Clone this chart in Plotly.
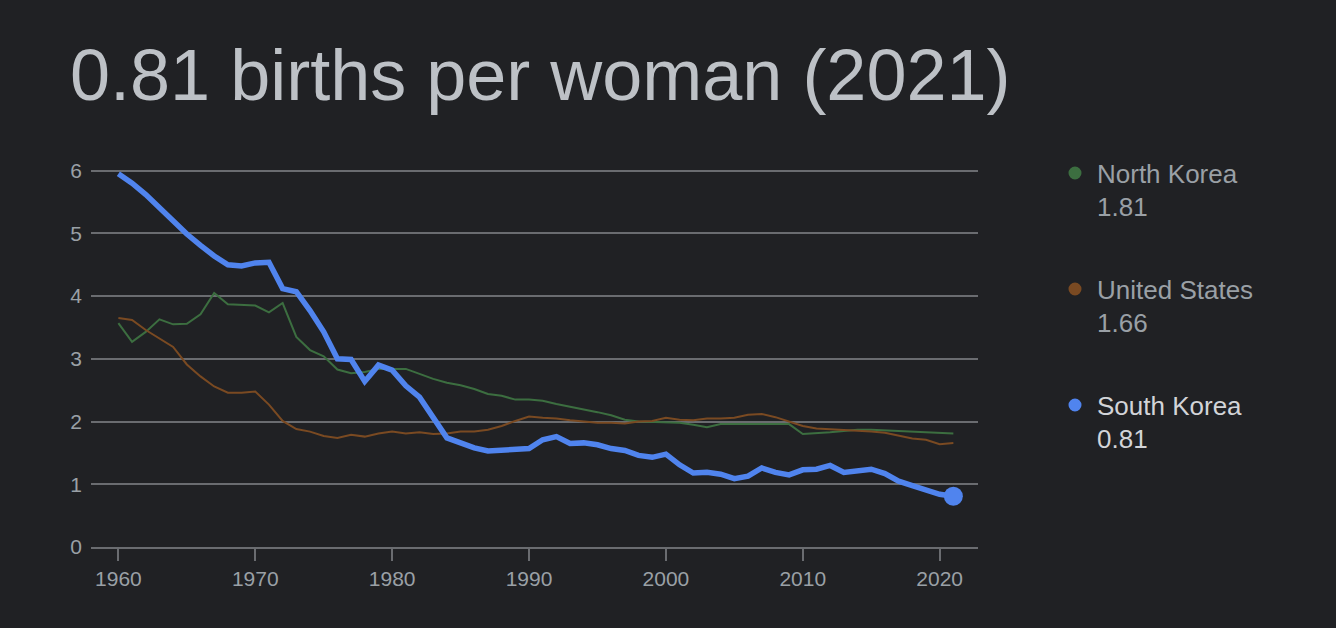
import plotly.graph_objects as go

# Fertility rate, births per woman
years = list(range(1960, 2022))

south_korea = [
    5.95, 5.80, 5.62, 5.40, 5.18, 4.99, 4.81, 4.64, 4.50, 4.48,
    4.53, 4.54, 4.12, 4.07, 3.77, 3.43, 3.00, 2.99, 2.64, 2.90,
    2.82, 2.57, 2.39, 2.06, 1.74, 1.66, 1.58, 1.53, 1.55, 1.56,
    1.57, 1.71, 1.76, 1.65, 1.66, 1.63, 1.57, 1.54, 1.46, 1.43,
    1.48, 1.31, 1.18, 1.19, 1.16, 1.09, 1.13, 1.26, 1.19, 1.15,
    1.23, 1.24, 1.30, 1.19, 1.21, 1.24, 1.17, 1.05, 0.98, 0.92, 0.84, 0.81,
]
united_states = [
    3.65, 3.62, 3.46, 3.32, 3.19, 2.91, 2.72, 2.56, 2.46, 2.46,
    2.48, 2.27, 2.01, 1.88, 1.84, 1.77, 1.74, 1.79, 1.76, 1.81,
    1.84, 1.81, 1.83, 1.80, 1.81, 1.84, 1.84, 1.87, 1.93, 2.01,
    2.08, 2.06, 2.05, 2.02, 2.00, 1.98, 1.98, 1.97, 2.00, 2.01,
    2.06, 2.03, 2.02, 2.05, 2.05, 2.06, 2.11, 2.12, 2.07, 2.00,
    1.93, 1.89, 1.88, 1.86, 1.86, 1.84, 1.82, 1.77, 1.73, 1.71, 1.64, 1.66,
]
north_korea = [
    3.57, 3.27, 3.43, 3.63, 3.55, 3.56, 3.71, 4.05, 3.87, 3.86,
    3.85, 3.74, 3.89, 3.35, 3.14, 3.04, 2.83, 2.77, 2.79, 2.84,
    2.84, 2.84, 2.76, 2.68, 2.62, 2.58, 2.52, 2.44, 2.41, 2.35,
    2.35, 2.33, 2.28, 2.24, 2.20, 2.15, 2.10, 2.03, 2.00, 1.99,
    1.98, 1.98, 1.95, 1.91, 1.96, 1.96, 1.96, 1.96, 1.97, 1.96,
    1.80, 1.81, 1.83, 1.85, 1.87, 1.87, 1.86, 1.85, 1.84, 1.83, 1.81, 1.81,
]

x_ticks = [1960, 1970, 1980, 1990, 2000, 2010, 2020]
y_ticks = [0, 1, 2, 3, 4, 5, 6]

BG = "#202124"
GRID = "#6a6c70"
FONT = "Liberation Sans, Arial, sans-serif"

series = [
    ("North Korea", north_korea, "#3c6e40", 2, "#9aa0a6"),
    ("United States", united_states, "#7a4a22", 2, "#9aa0a6"),
    ("South Korea", south_korea, "#5084ee", 5.5, "#d2d4d8"),
]

fig = go.Figure()
for name, vals, color, width, _ in series:
    fig.add_trace(go.Scatter(x=years, y=vals, mode="lines", name=name,
                             line=dict(color=color, width=width),
                             cliponaxis=False, showlegend=False))

# end point of South Korea
fig.add_trace(go.Scatter(x=[years[-1]], y=[south_korea[-1]], mode="markers",
                         marker=dict(color="#5084ee", size=19),
                         cliponaxis=False, showlegend=False))

# plot area in pixels
L, R, T, B = 91, 978, 155, 547
W, H = R - L, B - T

def px_x(p):
    return (p - L) / W

def px_y(p):
    return (B - p) / H

annotations = []
shapes = []
for i, (name, vals, color, width, tcol) in enumerate(series):
    top = 174 + i * 116
    shapes.append(dict(type="circle", xref="paper", yref="paper",
                       xsizemode="pixel", ysizemode="pixel",
                       xanchor=px_x(1075), yanchor=px_y(top - 1),
                       x0=-6.5, x1=6.5, y0=-6.5, y1=6.5,
                       fillcolor=color, line=dict(width=0)))
    annotations.append(dict(text=name, xref="paper", yref="paper",
                            x=px_x(1095), y=px_y(top), xanchor="left", yanchor="middle",
                            showarrow=False, font=dict(size=26, color=tcol, family=FONT)))
    annotations.append(dict(text=f"{vals[-1]:.2f}", xref="paper", yref="paper",
                            x=px_x(1095), y=px_y(top + 33), xanchor="left", yanchor="middle",
                            showarrow=False, font=dict(size=26, color=tcol, family=FONT)))

fig.update_layout(
    width=1336, height=628,
    paper_bgcolor=BG, plot_bgcolor=BG,
    margin=dict(l=L, r=1336 - R, t=T, b=628 - B),
    title=dict(text=f"{south_korea[-1]:.2f} births per woman ({years[-1]})",
               x=70 / 1336, xanchor="left", xref="container",
               y=1 - 75 / 628, yanchor="middle", yref="container",
               font=dict(size=72, color="#bdc1c6", family=FONT)),
    font=dict(family=FONT, color="#9aa0a6", size=21),
    shapes=shapes,
    annotations=annotations,
)
fig.update_xaxes(range=[1958.0, 2022.8], tickvals=x_ticks, showgrid=False,
                 showline=True, linecolor=GRID, linewidth=2,
                 ticks="outside", ticklen=12, tickwidth=2, tickcolor=GRID,
                 zeroline=False, tickfont=dict(size=21, color="#9aa0a6"))
fig.update_yaxes(range=[0, 6.25], tickvals=y_ticks, showgrid=True,
                 gridcolor=GRID, gridwidth=2, zeroline=False, showline=False,
                 ticklabelstandoff=8, tickfont=dict(size=21, color="#9aa0a6"))

# drop the page margin so the figure sits at the window's corner
fig.write_html("out.html", config={"displayModeBar": False},
               post_script="document.body.style.margin = '0';")
